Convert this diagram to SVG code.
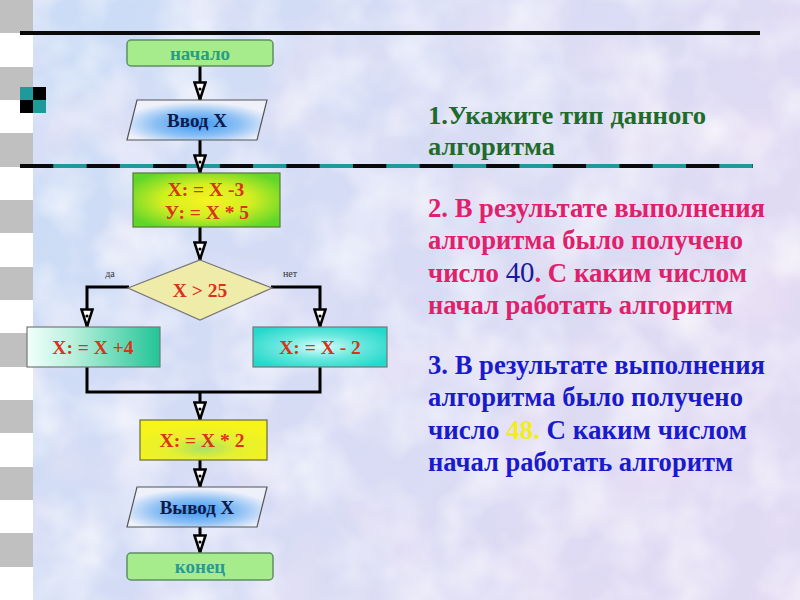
<svg xmlns="http://www.w3.org/2000/svg" width="800" height="600" viewBox="0 0 800 600">
<style>
.conn{fill:none;stroke:#000;stroke-width:3}
.t{font-family:"Liberation Serif","Times New Roman",serif;font-weight:bold;text-anchor:middle}
.red{fill:#d9341a;font-size:19.5px}
.nav{fill:#0e1a4a;font-size:19px}
.teal{fill:#2a9a8a;font-size:19px}
.q{font-family:"Liberation Serif","Times New Roman",serif;font-weight:bold}
.small{font-family:"Liberation Serif",serif;font-size:10px;fill:#333;text-anchor:middle}
</style>
<defs>
<linearGradient id="bg" x1="0" y1="0" x2="1" y2="0.3">
<stop offset="0" stop-color="#c9dcf6"/>
<stop offset="0.5" stop-color="#d6dcf5"/>
<stop offset="1" stop-color="#e0daf3"/>
</linearGradient>
<filter id="tex" x="0" y="0" width="100%" height="100%">
<feTurbulence type="fractalNoise" baseFrequency="0.018" numOctaves="3" seed="4"/>
<feColorMatrix type="matrix" values="0 0 0 0 1  0 0 0 0 1  0 0 0 0 1  1.2 0 0 0 -0.45"/>
</filter>
<filter id="tex2" x="0" y="0" width="100%" height="100%">
<feTurbulence type="fractalNoise" baseFrequency="0.012" numOctaves="2" seed="11"/>
<feColorMatrix type="matrix" values="0 0 0 0 0.93  0 0 0 0 0.8  0 0 0 0 0.92  1.2 0 0 0 -0.6"/>
</filter>
<radialGradient id="gIO" cx="0.5" cy="0.6" r="0.55">
<stop offset="0" stop-color="#3a98f4"/>
<stop offset="0.55" stop-color="#8cc0f4"/>
<stop offset="1" stop-color="#eef0fa"/>
</radialGradient>
<radialGradient id="gYG" cx="0.5" cy="0.5" r="0.6">
<stop offset="0" stop-color="#f6f41e"/>
<stop offset="0.5" stop-color="#d4ee22"/>
<stop offset="1" stop-color="#5ed62a"/>
</radialGradient>
<linearGradient id="gL" x1="0" y1="0" x2="1" y2="0">
<stop offset="0" stop-color="#f2fffb"/>
<stop offset="0.35" stop-color="#b8f0dc"/>
<stop offset="1" stop-color="#22c496"/>
</linearGradient>
<radialGradient id="gR" cx="0.5" cy="0.5" r="0.6">
<stop offset="0" stop-color="#d8fffa"/>
<stop offset="0.5" stop-color="#6ae8de"/>
<stop offset="1" stop-color="#26d8cc"/>
</radialGradient>
<radialGradient id="gX2" cx="0.5" cy="0.7" r="0.6">
<stop offset="0" stop-color="#a8e068"/>
<stop offset="0.45" stop-color="#e4f030"/>
<stop offset="1" stop-color="#f6f41a"/>
</radialGradient>
<marker id="arr" viewBox="0 0 20 14" refX="19" refY="7" markerWidth="20" markerHeight="14" markerUnits="userSpaceOnUse" orient="auto">
<path d="M1.5,1.5 L18.5,7 L1.5,12.5 Z" fill="#fff" stroke="#000" stroke-width="2.5"/>
<circle cx="8" cy="7" r="1.6" fill="#000"/>
</marker>
</defs>

<!-- background -->
<rect x="0" y="0" width="800" height="600" fill="url(#bg)"/>
<rect x="0" y="0" width="800" height="600" filter="url(#tex2)"/>
<rect x="0" y="0" width="800" height="600" filter="url(#tex)"/>

<!-- left strip -->
<g id="strip">
<rect x="0" y="0" width="33" height="600" fill="#ffffff"/>
<rect x="0" y="0" width="33" height="33" fill="#c0c0c0"/>
<rect x="0" y="67" width="33" height="33" fill="#c0c0c0"/>
<rect x="0" y="133" width="33" height="34" fill="#c0c0c0"/>
<rect x="0" y="200" width="33" height="33" fill="#c0c0c0"/>
<rect x="0" y="267" width="33" height="33" fill="#c0c0c0"/>
<rect x="0" y="333" width="33" height="34" fill="#c0c0c0"/>
<rect x="0" y="400" width="33" height="33" fill="#c0c0c0"/>
<rect x="0" y="467" width="33" height="33" fill="#c0c0c0"/>
<rect x="0" y="533" width="33" height="34" fill="#c0c0c0"/>
</g>

<!-- decorative lines -->
<g id="decor">
<line x1="20" y1="33" x2="760" y2="33" stroke="#0a0a0a" stroke-width="4"/>
<line x1="20" y1="166" x2="753" y2="166" stroke="#1e9a9a" stroke-width="4"/>
<line x1="20" y1="166" x2="753" y2="166" stroke="#0a0a0a" stroke-width="4" stroke-dasharray="33.3 33.3"/>
<rect x="20" y="87" width="13" height="13" fill="#1e9a9a"/>
<rect x="33" y="87" width="13" height="13" fill="#000"/>
<rect x="20" y="100" width="13" height="13" fill="#000"/>
<rect x="33" y="100" width="13" height="13" fill="#1e9a9a"/>
</g>

<!-- connectors -->
<g id="connectors">
<path class="conn" d="M200,66 V100" marker-end="url(#arr)"/>
<path class="conn" d="M200,140 V173" marker-end="url(#arr)"/>
<path class="conn" d="M200,227 V260" marker-end="url(#arr)"/>
<path class="conn" d="M129,287 H87 V327" marker-end="url(#arr)"/>
<path class="conn" d="M271,287 H320 V327" marker-end="url(#arr)"/>
<path class="conn" d="M87,367 V392 H320 V367"/>
<path class="conn" d="M200,392 V420" marker-end="url(#arr)"/>
<path class="conn" d="M200,460 V487" marker-end="url(#arr)"/>
<path class="conn" d="M200,527 V553" marker-end="url(#arr)"/>
<text class="small" x="110" y="277">да</text>
<text class="small" x="290" y="277">нет</text>
</g>

<!-- nodes -->
<g id="start">
<rect x="127" y="40" width="146" height="26" rx="4" fill="#a6ec8c" stroke="#5f8f62" stroke-width="1.5"/>
<text class="t teal" x="200" y="60">начало</text>
</g>
<g id="input">
<polygon points="137,100 267,100 257,140 127,140" fill="url(#gIO)" stroke="#555" stroke-width="1.2"/>
<text class="t nav" x="197" y="127">Ввод X</text>
</g>
<g id="assign1">
<rect x="133" y="173" width="147" height="54" fill="url(#gYG)" stroke="#5a7a3a" stroke-width="1.2"/>
<text class="t red" x="206" y="196">X: = X -3</text>
<text class="t red" x="207" y="219">У: = X * 5</text>
</g>
<g id="decision">
<polygon points="200,260 272,288 200,320 128,288" fill="#efeba8" stroke="#777" stroke-width="1.2"/>
<text class="t red" x="200" y="297">X &gt; 25</text>
</g>
<g id="yes">
<rect x="27" y="327" width="133" height="40" fill="url(#gL)" stroke="#777" stroke-width="1.2"/>
<text class="t red" x="93" y="354">X: = X +4</text>
</g>
<g id="no">
<rect x="253" y="327" width="134" height="40" fill="url(#gR)" stroke="#777" stroke-width="1.2"/>
<text class="t red" x="320" y="354">X: = X - 2</text>
</g>
<g id="assign2">
<rect x="140" y="420" width="127" height="40" fill="url(#gX2)" stroke="#6a6a3a" stroke-width="1.2"/>
<text class="t red" x="202" y="447">X: = X * 2</text>
</g>
<g id="output">
<polygon points="137,487 267,487 257,527 127,527" fill="url(#gIO)" stroke="#555" stroke-width="1.2"/>
<text class="t nav" x="197" y="514">Вывод X</text>
</g>
<g id="end">
<rect x="127" y="553" width="146" height="27" rx="4" fill="#a6ec8c" stroke="#5f8f62" stroke-width="1.5"/>
<text class="t teal" x="200" y="573">конец</text>
</g>

<!-- questions -->
<g id="q1" class="q" fill="#1f6b2a" font-size="25">
<text x="428" y="124" textLength="278" lengthAdjust="spacingAndGlyphs">1.Укажите тип данного</text>
<text x="428" y="155" textLength="127" lengthAdjust="spacingAndGlyphs">алгоритма</text>
</g>
<g id="q2" class="q" fill="#e0206a" font-size="27">
<text x="428" y="217" textLength="337" lengthAdjust="spacingAndGlyphs">2. В результате выполнения</text>
<text x="428" y="249" textLength="315" lengthAdjust="spacingAndGlyphs">алгоритма было получено</text>
<text x="428" y="282" textLength="319" lengthAdjust="spacingAndGlyphs">число <tspan fill="#1a1a9a" font-weight="normal" font-size="29">40</tspan>. С каким числом</text>
<text x="428" y="314" textLength="305" lengthAdjust="spacingAndGlyphs">начал работать алгоритм</text>
</g>
<g id="q3" class="q" fill="#1a1acd" font-size="27">
<text x="428" y="374" textLength="337" lengthAdjust="spacingAndGlyphs">3. В результате выполнения</text>
<text x="428" y="406" textLength="315" lengthAdjust="spacingAndGlyphs">алгоритма было получено</text>
<text x="428" y="439" textLength="319" lengthAdjust="spacingAndGlyphs">число <tspan fill="#f2ee1a">48.</tspan> С каким числом</text>
<text x="428" y="471" textLength="305" lengthAdjust="spacingAndGlyphs">начал работать алгоритм</text>
</g>
</svg>
